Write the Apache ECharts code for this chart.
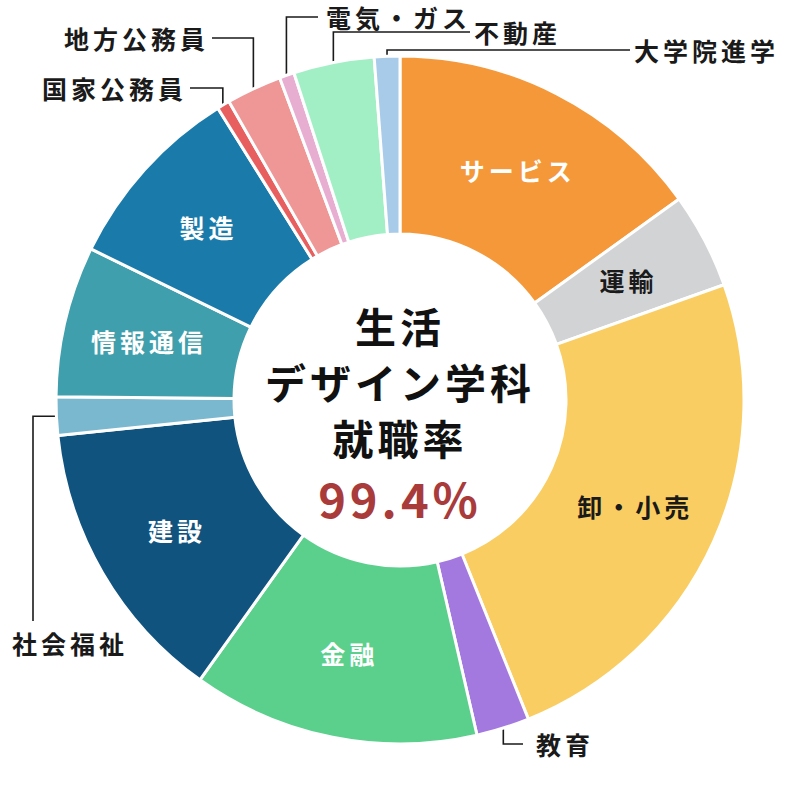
<!DOCTYPE html>
<html>
<head>
<meta charset="utf-8">
<title>生活デザイン学科 就職率</title>
<script src="https://cdn.jsdelivr.net/npm/echarts@6/dist/echarts.min.js"></script>
<style>
  html, body { margin: 0; padding: 0; background: #fff; }
  #main { width: 800px; height: 800px; }
  /* 元の図の字間に合わせる */
  #main text { letter-spacing: 4px; }
</style>
</head>
<body>
<div id="main"></div>
<script>
// 就職先の内訳（％）
var names = ['サービス', '運輸', '卸・小売', '教育', '金融', '建設', '社会福祉', '情報通信', '製造', '国家公務員', '地方公務員', '電気・ガス', '不動産', '大学院進学'];
var values = [15.1, 4.5, 24.4, 2.5, 13.5, 13.5, 1.8, 7.1, 8.9, 0.6, 2.6, 0.7, 3.8, 1.2];
var colors = ['#F5983A', '#D2D3D5', '#F9CD62', '#A379E0', '#5BD08C', '#10537E', '#7AB8D0', '#409FAC', '#1A7BAA', '#E85F60', '#EE9796', '#E8AED2', '#A2EFC6', '#A8CBE9'];
var darkText = ['運輸', '卸・小売'];
var titleLines = ['生活', 'デザイン学科', '就職率'];
var rate = '99.4%';

(function () {
  var FONT = "'Noto Sans CJK JP', 'Noto Sans', sans-serif";
  var myChart = echarts.init(document.getElementById('main'), null, { renderer: 'svg' });

  // 円の中心と外半径（radius: 86% → 400 * 0.86）
  var CX = 400, CY = 400, R_OUT = 344;

  // 外側ラベルの置き場所
  var outerLabels = {
    '大学院進学': { y: 50, end: 630, textX: 634, align: 'left' },
    '不動産': { y: 32, end: 470, textX: 474, align: 'left' },
    '電気・ガス': { y: 17, end: 318, textX: 326, align: 'left' },
    '地方公務員': { y: 38, end: 212, textX: 209, align: 'right' },
    '国家公務員': { y: 88, end: 190, textX: 187, align: 'right' },
    '教育': { y: 744, end: 523, textX: 536, align: 'left' },
    '社会福祉': { x: 33, end: 621, textX: 12, textY: 643, align: 'left', side: true }
  };

  // 各スライスの中央角度（上から時計回り）
  var total = values.reduce(function (a, b) { return a + b; }, 0);
  var midAngles = [];
  var acc = 0;
  values.forEach(function (v) {
    midAngles.push((acc + v / 2) / total * Math.PI * 2);
    acc += v;
  });

  var data = names.map(function (name, i) {
    var outside = !!outerLabels[name];
    return {
      name: name,
      value: values[i],
      itemStyle: { color: colors[i] },
      label: {
        show: true,
        position: outside ? 'outside' : 'inside',
        color: outside || darkText.indexOf(name) > -1 ? '#1a1a1a' : '#fff'
      },
      labelLine: { show: outside }
    };
  });

  var option = {
    animation: false,
    title: {
      text: titleLines.map(function (t) { return '{t|' + t + '}'; }).join('\n') + '\n{p|' + rate + '}',
      left: 'center',
      top: 297,
      padding: 0,
      textStyle: {
        rich: {
          t: { fontFamily: FONT, fontSize: 41, fontWeight: 'bold', lineHeight: 56, color: '#111' },
          p: { fontFamily: FONT, fontSize: 47, fontWeight: 'bold', lineHeight: 64, color: '#A93B3B' }
        }
      }
    },
    series: [
      {
        type: 'pie',
        center: ['50%', '50%'],
        radius: ['41.5%', '86%'],
        startAngle: 90,
        clockwise: true,
        avoidLabelOverlap: false,
        itemStyle: {
          borderColor: '#fff',
          borderWidth: 3
        },
        label: {
          fontFamily: FONT,
          fontSize: 25,
          fontWeight: 'bold',
          formatter: '{b}'
        },
        labelLine: {
          lineStyle: { color: '#1a1a1a', width: 1.6 }
        },
        // 外側ラベルは縦→横のかぎ線で引き出す
        labelLayout: function (params) {
          var name = names[params.dataIndex];
          var spec = outerLabels[name];
          if (!spec) {
            return;
          }
          var a = midAngles[params.dataIndex];
          var ax = CX + (R_OUT + 1) * Math.sin(a);
          var ay = CY - (R_OUT + 1) * Math.cos(a);
          if (spec.side) {
            return {
              x: spec.textX,
              y: spec.textY,
              align: spec.align,
              verticalAlign: 'middle',
              labelLinePoints: [[ax, ay], [spec.x, ay], [spec.x, spec.end]]
            };
          }
          return {
            x: spec.textX,
            y: spec.y,
            align: spec.align,
            verticalAlign: 'middle',
            labelLinePoints: [[ax, ay], [ax, spec.y], [spec.end, spec.y]]
          };
        },
        data: data
      }
    ]
  };

  myChart.setOption(option);
  window.addEventListener('resize', function () {
    myChart.resize();
  });
})();
</script>
</body>
</html>
